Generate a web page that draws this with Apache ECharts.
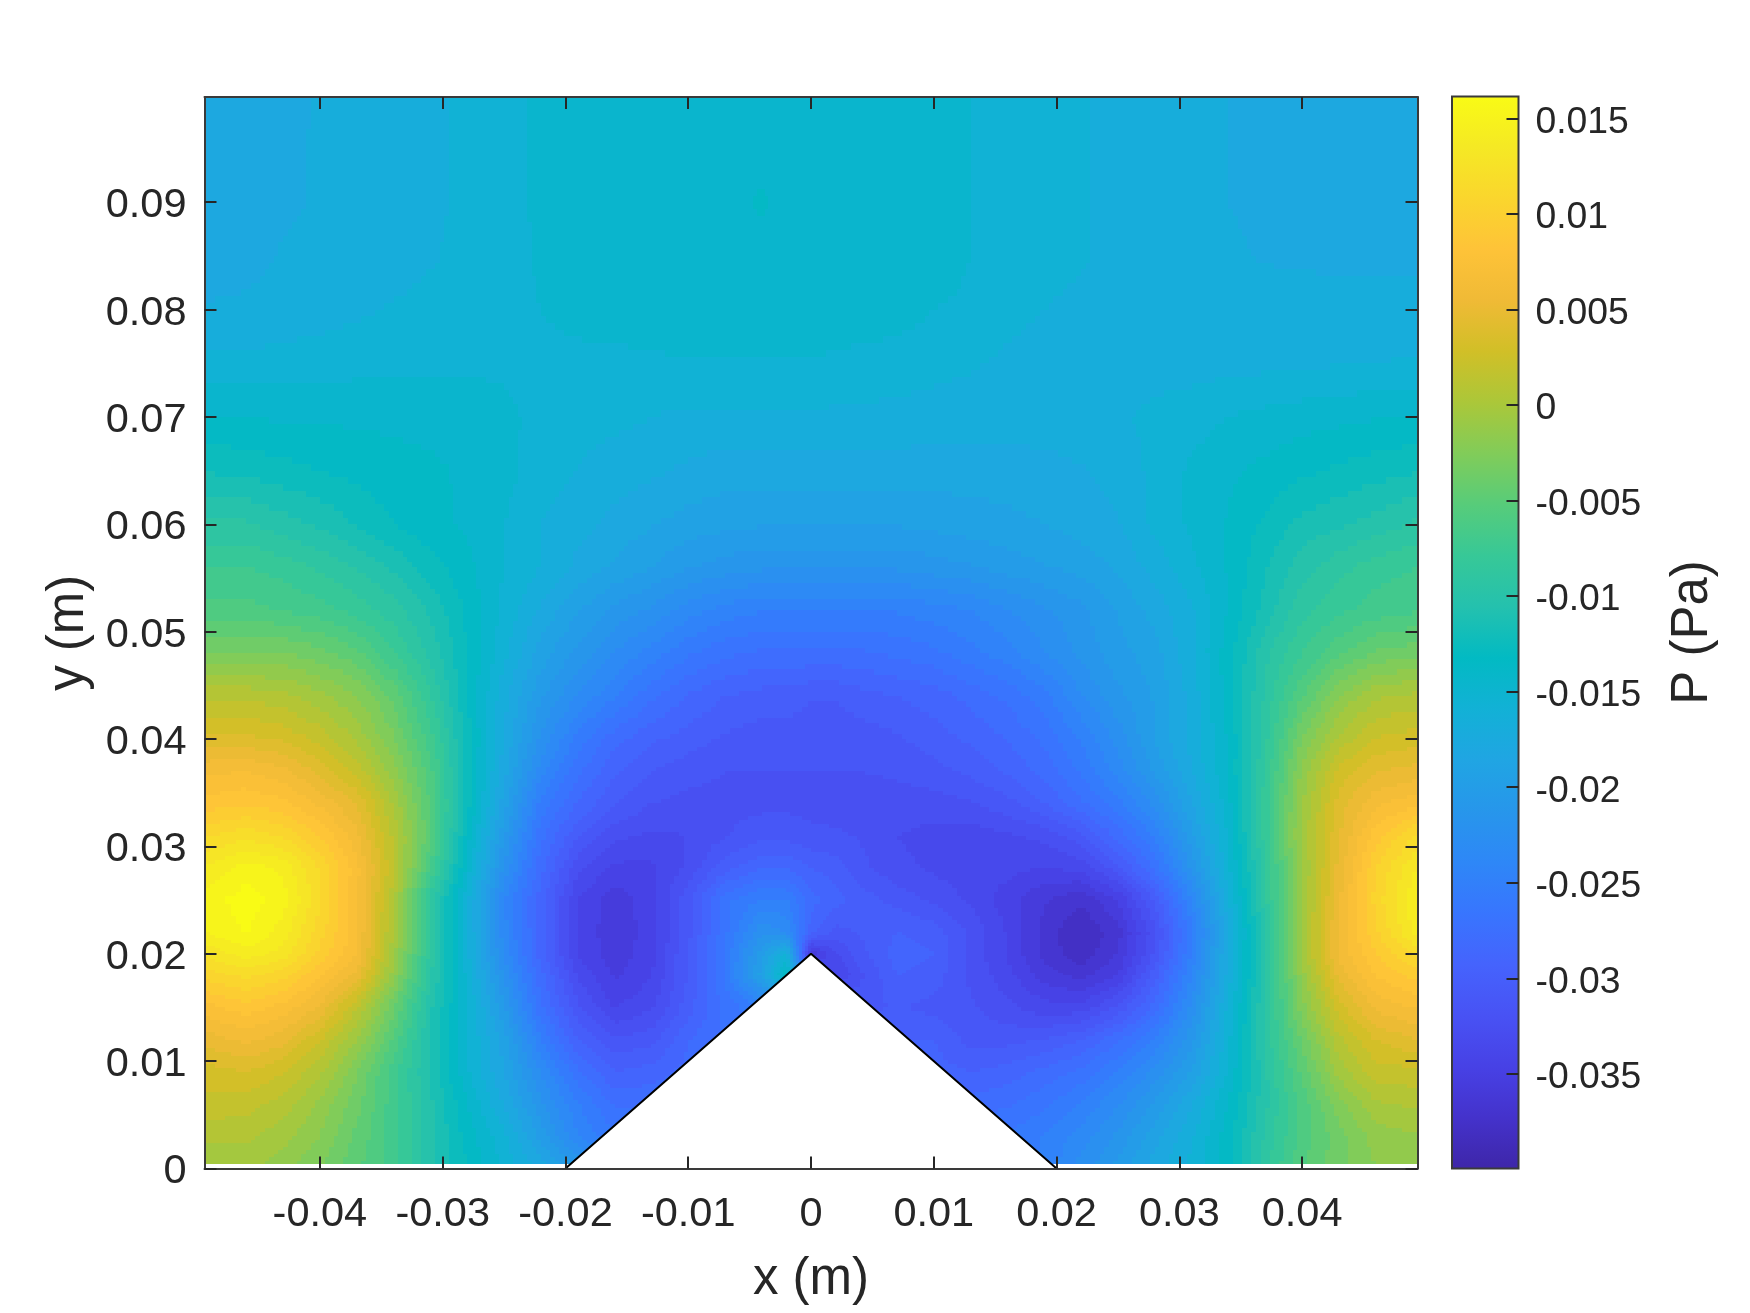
<!DOCTYPE html>
<html><head><meta charset="utf-8">
<script src="https://cdn.jsdelivr.net/npm/echarts@6/dist/echarts.min.js"></script>
<style>html,body{margin:0;padding:0;background:#fff}#c{width:1750px;height:1313px}</style>
</head><body><div id="c"></div>
<script>
// grid nodes in mm; pressure in mPa
const xMm=[-49.4,-46,-43,-40,-37,-34,-31,-28,-25,-22,-19,-16,-13,-10,-7,-4,-2,0,2,4,7,10,13,16,19,22,25,28,31,34,37,40,43,46,49.4];
const yMm=[0.4,3,6,9,12,15,18,20,22,25,28,31,34,37,40,44,48,52,56,60,65,70,75,80,85,90,95,99.8];
const p_y0=[-0.5,-0.5,-1.5,-3,-5,-7,-10.5,-13,-15.5,-18,-21,-24,-24,-24,-24,-24,-24,-24,-25,-25,-25,-25,-25,-25,-25,-22.5,-20.5,-18,-16,-13.5,-9,-5.5,-3.5,-2,-1];
const p_y3=[0.5,0.5,-0.5,-2,-4.5,-7,-10.5,-13.5,-16,-20,-24,-26,-26,-26,-26,-26,-26,-26,-26,-26,-26,-26,-26,-26,-25,-23.5,-21.5,-19,-16.5,-13.5,-9.5,-6,-3.5,-1.5,-1];
const p_y6=[2,1.8,0.8,-1.2,-3.8,-7,-10.5,-14,-17.5,-21.5,-25,-27.5,-27.5,-27,-27,-27,-27,-27,-27,-27,-27,-27,-28,-27.5,-26.5,-25,-23,-20.5,-17.5,-14,-10,-6,-2.5,0,0.5];
const p_y9=[3,3.5,2.5,0.5,-3,-7,-11,-15,-18.5,-23,-27,-29.5,-29,-28,-28,-28,-28,-28,-28,-28,-28,-29,-29.5,-29,-28,-27,-25,-22.5,-19.5,-15,-10,-5,-0.5,2,2];
const p_y12=[5,6,5,2.5,-1,-5.5,-11,-15,-19,-25,-29.5,-31.5,-31,-28.5,-27,-27,-27,-28,-28,-29,-29.5,-29.5,-31,-31,-30.5,-29.5,-27.5,-25,-21,-15.5,-9.5,-4,1,3.5,4.5];
const p_y15=[7.5,8.5,7.5,5.5,1.5,-4,-10.5,-15,-20.5,-27,-31.5,-34,-33,-30,-27,-25,-25,-28,-30,-31,-30.5,-31,-31.5,-32.5,-33.5,-33.5,-31.5,-28,-22.5,-16,-9.5,-2.5,3,6,7];
const p_y18=[10.5,11.5,10.5,8,5.3,-1.5,-9.5,-15.5,-22,-28,-33,-35.2,-34,-30.5,-26,-19,-13,-30,-34,-32,-29.5,-30,-32,-33.5,-35.5,-36.5,-35,-30,-24,-17,-10,-1.5,5,8,9.5];
const p_y20=[12.5,14,13,9.8,6.8,-0.5,-9,-16,-23,-29,-34,-35.7,-34.3,-30.5,-26,-20,-16,-36,-33,-31,-29,-29.5,-32,-34,-36.5,-38,-36,-31.5,-25,-17,-10,-0.5,6,9,11.5];
const p_y22=[14.5,15.7,14,10.5,7,0,-9,-16,-23.5,-29,-34,-35.8,-34.5,-31,-26.5,-22,-23,-29,-31,-30.5,-29.5,-30,-32,-34,-36.5,-38.3,-36.5,-32,-25.5,-17.5,-10,-0.5,6,9.8,14];
const p_y25=[15,16.2,15,11.5,7,0.5,-9,-16,-24,-29,-34,-35.7,-34.3,-31,-26.5,-25,-25,-28,-29,-30,-31,-32,-33,-34.5,-36,-37,-35,-30.5,-24,-16.5,-9,-0.8,5.5,10.5,14.5];
const p_y28=[13.5,15,14.3,11,7.2,1.5,-6.5,-14.5,-22,-28,-32.5,-34.2,-34.2,-32.5,-30,-28.5,-28.5,-29.5,-30,-31.3,-32.5,-33,-33.5,-33.5,-34,-33.5,-31,-27,-21.5,-15.5,-9,-1,5,10,13.5];
const p_y31=[11,12,11,9,6,1,-5,-13.5,-20.5,-27,-30.5,-32.5,-33,-32.8,-31.8,-31,-31,-31.5,-31.5,-31.8,-32.8,-33.2,-33.5,-33,-32.5,-31,-28,-25,-20,-15,-8,-0.5,4.5,8.5,11.5];
const p_y34=[8.3,8.8,8.2,6.5,4.5,0,-5.5,-12.5,-19,-25.5,-28.5,-30.5,-31.7,-32,-32,-32,-32,-32,-32.2,-32.2,-32.2,-32.2,-31.8,-31,-29.5,-27.5,-25.5,-22.5,-18.5,-14.5,-8,-1,4,6.5,7.5];
const p_y37=[6.5,6.8,6,4.2,2,-1.5,-6,-12.5,-18,-23.5,-27,-29.3,-30.6,-31.3,-31.7,-31.7,-31.7,-31.7,-31.7,-31.7,-31.5,-31,-30.3,-29.3,-28,-26,-23.5,-20.5,-17.5,-14,-8.5,-1.8,2.8,4.5,5];
const p_y40=[3.8,3.8,3.3,2,0,-3,-7,-12.5,-17.5,-22,-25.5,-28,-29.3,-30,-30.8,-31.2,-31.2,-31.2,-31.2,-31.2,-30.8,-30,-29.3,-28.3,-27,-25,-22.5,-19.5,-17,-14,-9,-3,0.5,2.5,3];
const p_y44=[1,1,0.5,-0.5,-2,-4.5,-8.5,-13,-17,-20.5,-23,-25,-27,-28.5,-29.5,-30,-30,-30.5,-30.5,-30,-29.5,-29,-28,-27,-25.5,-23,-21,-19.5,-17,-13.5,-9.5,-5.5,-2,0,0.5];
const p_y48=[-3,-3,-3,-3.8,-5,-7.5,-10,-13,-16,-19,-21,-23,-24.5,-26,-27,-27.5,-27.5,-27.5,-27.5,-27.5,-27,-26.5,-25.5,-24.5,-23,-21.5,-20,-19,-16.5,-13.5,-10,-7.5,-5.5,-4,-3.5];
const p_y52=[-6,-6,-6.5,-7,-8,-9.2,-11,-13.3,-15.5,-17.6,-19.5,-21,-22,-23.5,-24.5,-25,-25,-25,-25,-25,-25,-24.5,-24,-23,-22,-21,-19.5,-18,-16.5,-14,-11.5,-9,-7.8,-7,-6.5];
const p_y56=[-7.5,-7.5,-8,-8.8,-9.8,-11,-12.5,-13.8,-15.2,-16.3,-17.7,-18.7,-19.6,-20.6,-21.2,-21.6,-21.6,-21.6,-21.6,-21.6,-21.6,-21.2,-20.8,-20.2,-19.7,-19.2,-18.3,-17,-15.5,-14,-12,-10.2,-9,-8,-7.5];
const p_y60=[-9.5,-9.5,-10.3,-11,-12,-13,-13.8,-14.3,-15.2,-16.3,-17,-17.8,-18.4,-19,-19.3,-19.5,-19.5,-19.5,-19.5,-19.5,-19.5,-19.3,-19,-18.8,-18.5,-18,-17.5,-16,-15,-14,-12.8,-11.5,-11,-10.3,-9.5];
const p_y65=[-12,-12.3,-12.6,-13,-13.4,-13.8,-14,-14.2,-14.8,-15.8,-16.3,-16.8,-17.2,-17.6,-18,-18,-18,-18,-18,-18,-18,-18,-18,-18,-17.8,-17.5,-17,-16,-15,-14.3,-13.8,-13.3,-12.8,-12.4,-12];
const p_y70=[-14,-14.1,-14.3,-14.3,-14.3,-14.3,-14.3,-14.3,-14.8,-15.7,-16,-16,-16.3,-16.5,-16.5,-16.5,-16.5,-16.5,-16.5,-16.5,-16.6,-16.7,-16.8,-16.8,-16.8,-16.7,-16.5,-16,-15.7,-15.2,-14.9,-14.6,-14.4,-14.2,-14];
const p_y75=[-16,-16,-15.9,-15.7,-15.6,-15.5,-15.5,-15.5,-15.5,-15.6,-15.7,-15.7,-15.5,-15.3,-15.3,-15.3,-15.3,-15.3,-15.5,-15.7,-15.8,-16,-16.2,-16.5,-16.7,-16.8,-16.8,-16.8,-16.8,-16.7,-16.6,-16.5,-16.4,-16.3,-16.2];
const p_y80=[-17.3,-17.2,-17,-16.8,-16.5,-16.2,-16,-16,-15.8,-15.2,-14.6,-14.3,-14.3,-14.3,-14.3,-14.3,-14.3,-14.3,-14.3,-14.3,-14.6,-15.2,-15.5,-16,-16.3,-16.5,-16.7,-16.8,-16.9,-16.9,-16.9,-16.9,-16.9,-16.9,-16.9];
const p_y85=[-18,-17.8,-17.3,-17.2,-17,-16.8,-16.4,-16,-15.8,-15,-14.3,-14.3,-14.3,-14.3,-14.3,-14.3,-14.3,-14.3,-14.3,-14.3,-14.3,-14.3,-15.2,-15.7,-16,-16.2,-16.6,-16.8,-17,-17.2,-17.5,-17.6,-17.7,-17.7,-17.7];
const p_y90=[-18.2,-18,-17.6,-17.3,-17.2,-17,-16.6,-16,-15.8,-14.9,-14.3,-14.3,-14.3,-14.3,-14.2,-14.05,-14.2,-14.3,-14.3,-14.3,-14.3,-14.3,-15.2,-15.7,-16,-16.2,-16.6,-16.9,-17.1,-17.4,-17.7,-17.8,-17.9,-18,-18];
const p_y95=[-18.2,-18,-17.6,-17.3,-17.2,-17,-16.6,-16,-15.8,-14.9,-14.3,-14.3,-14.3,-14.3,-14.3,-14.3,-14.3,-14.3,-14.3,-14.3,-14.3,-14.3,-15.2,-15.7,-16,-16.2,-16.6,-16.9,-17.1,-17.4,-17.7,-17.8,-17.9,-18,-18];
const p_y100=[-18.2,-18,-17.7,-17.3,-17.2,-17,-16.6,-16,-15.8,-14.9,-14.3,-14.3,-14.3,-14.3,-14.3,-14.3,-14.3,-14.3,-14.3,-14.3,-14.3,-14.3,-15.2,-15.7,-16,-16.2,-16.6,-16.9,-17.1,-17.4,-17.7,-17.8,-17.9,-18,-18];
const pRows=[p_y0,p_y3,p_y6,p_y9,p_y12,p_y15,p_y18,p_y20,p_y22,p_y25,p_y28,p_y31,p_y34,p_y37,p_y40,p_y44,p_y48,p_y52,p_y56,p_y60,p_y65,p_y70,p_y75,p_y80,p_y85,p_y90,p_y95,p_y100];
const triX=[-0.02,0,0.02];
const triY=[0,0.02,0];
const xTicks=[-0.04,-0.03,-0.02,-0.01,0,0.01,0.02,0.03,0.04];
const yTicks=[0,0.01,0.02,0.03,0.04,0.05,0.06,0.07,0.08,0.09];
const cbTicks=[-0.035,-0.03,-0.025,-0.02,-0.015,-0.01,-0.005,0,0.005,0.01,0.015];
const cMin=-0.03995, cMax=0.01614;
const parula=['#3e26a8','#4432cb','#4741e5','#4852f4','#4563fd','#3875fe','#2e87f7','#2796eb','#20a5e3','#12b1d6','#02bac3','#24c1ae','#37c897','#57cc7a','#81cc59','#abc739','#d1bf27','#f0ba36','#fec338','#fad62d','#f5e924','#f9fb15'];

const ink='#262626', frame='#3a3a3a', FONT='"Liberation Sans", Arial, sans-serif';
const xs=xMm.map(v=>v/1000), ys=yMm.map(v=>v/1000);
const field=[];
ys.forEach((y,j)=>xs.forEach((x,i)=>field.push([x,y,pRows[j][i]/1000,i,j])));

const LEVELS=52, lut=[];
for(let k=0;k<LEVELS;k++) lut.push(echarts.color.lerp(k/(LEVELS-1),parula));
function colorOf(v){
  const t=Math.max(0,Math.min(1,(v-cMin)/(cMax-cMin)));
  return lut[Math.round(t*(LEVELS-1))];
}
const SUB=8;
function renderCell(params,api){
  const i=api.value(3), j=api.value(4);
  if(i>=xs.length-1||j>=ys.length-1) return null;
  const a=api.coord([xs[i],ys[j]]), b=api.coord([xs[i+1],ys[j+1]]);
  const v00=pRows[j][i]/1000,v10=pRows[j][i+1]/1000,v01=pRows[j+1][i]/1000,v11=pRows[j+1][i+1]/1000;
  const children=[];
  for(let m=0;m<SUB;m++){
    const u0=m/SUB,u1=(m+1)/SUB,uc=(m+.5)/SUB;
    const X0=Math.round(a[0]+(b[0]-a[0])*u0),X1=Math.round(a[0]+(b[0]-a[0])*u1);
    for(let n=0;n<SUB;n++){
      const w0=n/SUB,w1=(n+1)/SUB,wc=(n+.5)/SUB;
      const Y0=Math.round(a[1]+(b[1]-a[1])*w0),Y1=Math.round(a[1]+(b[1]-a[1])*w1);
      const v=(v00*(1-uc)+v10*uc)*(1-wc)+(v01*(1-uc)+v11*uc)*wc;
      children.push({type:'rect',silent:true,shape:{x:X0,y:Y1,width:X1-X0,height:Y0-Y1},style:{fill:colorOf(v)}});
    }
  }
  return {type:'group',children};
}
function renderBar(params,api){
  const a=api.coord([0,cMin]),b=api.coord([1,cMax]);
  const stops=parula.map((c,k)=>({offset:k/(parula.length-1),color:c}));
  return {type:'rect',shape:{x:a[0],y:b[1],width:b[0]-a[0],height:a[1]-b[1]},
    style:{fill:new echarts.graphic.LinearGradient(0,1,0,0,stops),stroke:frame,lineWidth:2}};
}
const tick=(vals)=>({show:true,inside:true,length:12,customValues:vals,lineStyle:{color:ink,width:2}});
const line={show:true,onZero:false,lineStyle:{color:frame,width:2}};
const label=(vals,size,margin)=>({show:true,customValues:vals,fontSize:size,fontFamily:FONT,color:ink,margin});
const sideLabel=(vals,size,margin,lh)=>Object.assign(label(vals,size,margin),{verticalAlign:'top',lineHeight:lh});
const nameStyle={fontSize:51,fontFamily:FONT,color:ink};

const chart=echarts.init(document.getElementById('c'),null,{renderer:'canvas',width:1750,height:1313});
chart.setOption({
  animation:false,backgroundColor:'#fff',
  grid:[{left:204.5,top:97,width:1213,height:1071.5},{left:1452,top:96.5,width:66.5,height:1072}],
  xAxis:[
    {type:'value',gridIndex:0,position:'bottom',min:-0.0494,max:0.0494,z:10,axisLine:line,axisTick:tick(xTicks),axisLabel:label(xTicks,41.5,25),splitLine:{show:false},
     name:'x (m)',nameLocation:'middle',nameGap:86,nameTextStyle:nameStyle},
    {type:'value',gridIndex:0,position:'top',min:-0.0494,max:0.0494,z:10,axisLine:line,axisTick:tick(xTicks),axisLabel:{show:false},splitLine:{show:false}},
    {type:'value',gridIndex:1,min:0,max:1,show:false}
  ],
  yAxis:[
    {type:'value',gridIndex:0,position:'left',min:0,max:0.0998,z:10,axisLine:line,axisTick:tick(yTicks),axisLabel:sideLabel(yTicks,41.5,18,7),splitLine:{show:false},
     name:'y (m)',nameLocation:'middle',nameGap:110,nameTextStyle:nameStyle},
    {type:'value',gridIndex:0,position:'right',min:0,max:0.0998,z:10,axisLine:line,axisTick:tick(yTicks),axisLabel:{show:false},splitLine:{show:false}},
    {type:'value',gridIndex:1,position:'right',min:cMin,max:cMax,z:10,axisLine:{show:false,onZero:false},axisTick:tick(cbTicks),axisLabel:sideLabel(cbTicks,37.3,17,8),splitLine:{show:false},
     name:'P (Pa)',nameLocation:'middle',nameGap:149,nameTextStyle:nameStyle}
  ],
  series:[
    {type:'custom',name:'P',xAxisIndex:0,yAxisIndex:0,z:2,renderItem:renderCell,encode:{x:0,y:1},data:field,silent:true,progressive:0},
    {type:'line',name:'wedge',xAxisIndex:0,yAxisIndex:0,z:3,symbol:'none',data:triX.map((x,i)=>[x,triY[i]]),
     lineStyle:{color:'#000',width:2},areaStyle:{color:'#fff',opacity:1},silent:true},
    {type:'custom',name:'colorbar',xAxisIndex:2,yAxisIndex:2,z:2,renderItem:renderBar,encode:{x:0,y:1},data:[[0,cMin]],silent:true}
  ]
});
</script></body></html>
